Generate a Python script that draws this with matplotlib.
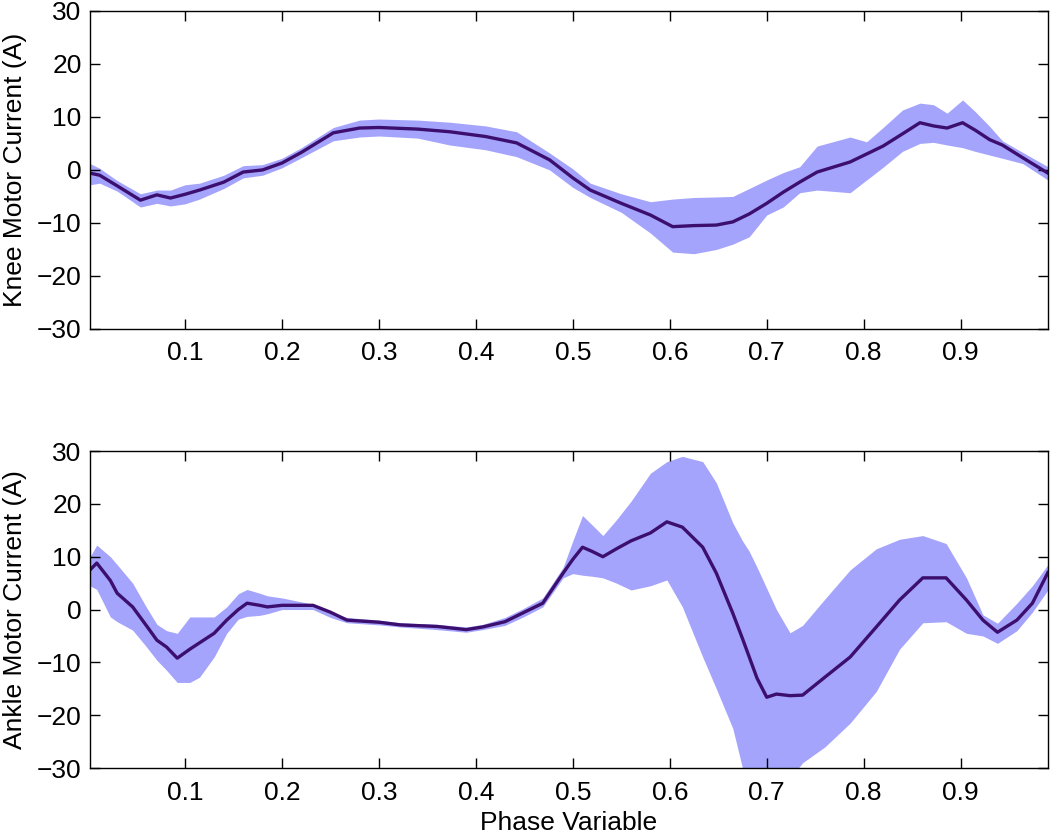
import numpy as np
import matplotlib
matplotlib.use("Agg")
import matplotlib.pyplot as plt

# =====================
# DATA
# =====================
knee_phase = [0.002, 0.012, 0.03, 0.054, 0.071, 0.085, 0.1, 0.115, 0.14, 0.16,
              0.18, 0.2, 0.22, 0.253, 0.28, 0.3, 0.34, 0.373, 0.41, 0.442,
              0.476, 0.5, 0.518, 0.55, 0.58, 0.603, 0.625, 0.648, 0.665, 0.682,
              0.7, 0.717, 0.734, 0.752, 0.786, 0.803, 0.82, 0.84, 0.858, 0.872,
              0.886, 0.902, 0.915, 0.93, 0.943, 0.964, 0.99]
knee_mean = [-0.6, -1, -3, -5.7, -4.7, -5.3, -4.6, -3.8, -2.3, -0.4,
             0, 1.3, 3.3, 7, 7.9, 8, 7.7, 7.2, 6.3, 5.1,
             1.9, -1.5, -3.8, -6.3, -8.5, -10.7, -10.5, -10.4, -9.8, -8.3,
             -6.3, -4.2, -2.3, -0.4, 1.5, 3.0, 4.5, 6.8, 8.9, 8.3,
             7.9, 8.9, 7.5, 5.7, 4.7, 2.3, -0.6]
knee_upper = [1.2, 0.3, -2, -4.5, -3.8, -3.8, -2.8, -2.5, -1, 0.8,
              1, 2.2, 4.2, 8, 9.4, 9.6, 9.4, 9, 8.3, 7.2,
              3.2, 0.2, -2.5, -4.5, -6, -5.5, -5.2, -5.1, -5, -3.5,
              -1.9, -0.5, 0.6, 4.5, 6.2, 5.3, 8, 11.3, 12.6, 12.3,
              10.7, 13.2, 11, 8.2, 5.5, 3.3, 0.6]
knee_lower = [-2.8, -2.5, -4, -7, -6.3, -6.8, -6.4, -5.5, -3.5, -1.5,
              -1, 0.4, 2.3, 5.5, 6.2, 6.4, 6, 4.7, 3.8, 2.5,
              0, -3.3, -5.2, -8, -11.9, -15.5, -15.8, -15, -14, -12.6,
              -8.5, -7, -4.3, -3.8, -4.3, -1.9, 0.5, 3.5, 5, 5.2,
              4.7, 4.2, 3.5, 2.8, 2.2, 1.2, -1.9]

ankle_phase = [0.002, 0.009, 0.023, 0.03, 0.046, 0.06, 0.071, 0.081, 0.092, 0.105,
               0.115, 0.13, 0.143, 0.155, 0.164, 0.177, 0.185, 0.2, 0.232, 0.25,
               0.267, 0.3, 0.322, 0.36, 0.39, 0.407, 0.43, 0.45, 0.469, 0.49,
               0.5, 0.51, 0.52, 0.531, 0.545, 0.56, 0.58, 0.597, 0.613, 0.634,
               0.648, 0.665, 0.675, 0.682, 0.69, 0.7, 0.71, 0.724, 0.737, 0.76,
               0.786, 0.813, 0.837, 0.861, 0.885, 0.906, 0.923, 0.938, 0.958, 0.974,
               0.99]
ankle_mean = [7.5, 8.8, 5.5, 3.1, 0.5, -3, -5.8, -7.1, -9.2, -7.5,
              -6.3, -4.5, -2, 0, 1.2, 0.8, 0.5, 0.8, 0.8, -0.5,
              -2, -2.4, -2.9, -3.2, -3.8, -3.3, -2.3, -0.5, 1.2, 6.9,
              9.5, 11.8, 11, 10, 11.5, 13, 14.5, 16.6, 15.6, 11.8,
              6.9, -0.7, -5.5, -9, -13, -16.6, -16, -16.3, -16.2, -12.8,
              -9, -3.3, 1.8, 6, 6, 1.8, -2, -4.3, -2, 1.2,
              7]
ankle_upper = [10, 12.2, 10, 8.5, 5, 0.5, -2.8, -4, -4.5, -1.4,
               -1.4, -1.4, 0.5, 3, 3.8, 3.1, 2.6, 2.2, 1, -0.5,
               -1.5, -2, -2.5, -2.8, -3.3, -2.8, -1.5, 0.3, 2.2, 8,
               13, 17.8, 16, 14, 17, 20.5, 25.8, 28, 29, 28,
               24, 16.4, 13, 11, 8, 4, 0, -4.4, -3, 2,
               7.5, 11.5, 13.3, 14, 12.5, 6, -1, -2.6, 1.2, 4.5,
               8.5]
ankle_lower = [4.5, 3.8, -1.4, -2.3, -3.9, -7, -9.6, -11.5, -13.8, -13.8,
               -12.8, -9, -4.5, -1.8, -1.3, -1.1, -0.8, 0, 0, -1.5,
               -2.5, -2.9, -3.3, -3.8, -4.3, -3.8, -3, -1.3, 0.5, 6,
               6.8, 6.5, 6.3, 6, 5, 3.7, 4.5, 5.6, 0.5, -9,
               -15, -22.5, -30, -32, -33, -33, -33, -32, -29, -26,
               -21.5, -15.5, -7.5, -2.5, -2.3, -4.5, -5, -6.4, -4, -0.5,
               3.7]

x_ticks = [0.1, 0.2, 0.3, 0.4, 0.5, 0.6, 0.7, 0.8, 0.9]
y_ticks = [-30, -20, -10, 0, 10, 20, 30]

# =====================
# STYLE
# =====================
plt.rcParams.update({
    "font.family": ["Liberation Sans", "DejaVu Sans"],
    "font.size": 19,
    "xtick.direction": "in",
    "ytick.direction": "in",
})

BAND = "#a4a4fc"
LINE = "#3c0f6e"

fig = plt.figure(figsize=(10.5, 8.35), dpi=100)
ax_knee = fig.add_axes([0.0857, 0.606, 0.9123, 0.381])
ax_ankle = fig.add_axes([0.0857, 0.0802, 0.9123, 0.3796])

panels = [
    (ax_knee, knee_phase, knee_mean, knee_upper, knee_lower, "Knee Motor Current (A)"),
    (ax_ankle, ankle_phase, ankle_mean, ankle_upper, ankle_lower, "Ankle Motor Current (A)"),
]

for ax, x, m, up, lo, label in panels:
    ax.fill_between(x, lo, up, color=BAND, linewidth=0)
    ax.plot(x, m, color=LINE, lw=2.4)
    ax.set_xlim(0.002, 0.99)
    ax.set_ylim(-30, 30)
    ax.set_xticks(x_ticks)
    ax.set_yticks(y_ticks)
    ax.tick_params(which="both", top=True, right=True, length=7, width=1,
                   labelsize=19)
    ax.tick_params(axis="x", pad=9)
    ax.tick_params(axis="y", pad=6)
    ax.set_ylabel(label, fontsize=19)
    ax.yaxis.set_label_coords(-0.066, 0.5)
    for s in ax.spines.values():
        s.set_linewidth(1)

ax_ankle.set_xlabel("Phase Variable", fontsize=19)
ax_ankle.xaxis.set_label_coords(0.5, -0.136)

fig.savefig("out.png", dpi=100)
